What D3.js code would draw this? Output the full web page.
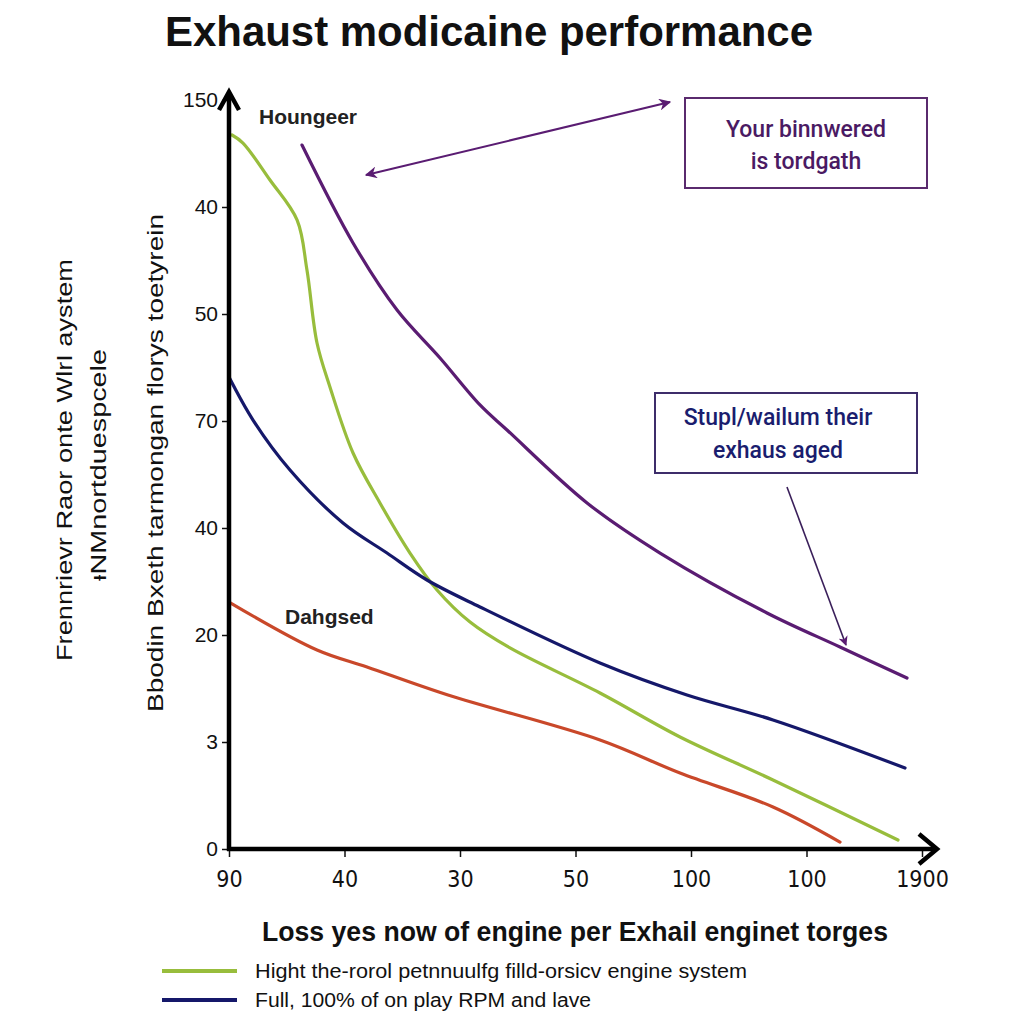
<!DOCTYPE html>
<html><head><meta charset="utf-8">
<script src="https://cdn.jsdelivr.net/npm/d3@7"></script>
<style>
body{margin:0;background:#fff;}
svg{display:block;font-family:"Liberation Sans",Arial,sans-serif;}
</style></head>
<body><svg id="c" width="1024" height="1024"></svg>
<script>
// ---- data ----
const xTickLabels = ["90","40","30","50","100","100","1900"];
const yTickLabels = ["0","3","20","40","70","50","40","150"];
const greenX = [0.026,0.121,0.355,0.589,0.675,0.762,0.874,1.074,1.307,1.567,1.801,2.087,2.433,3.212,3.905,4.710,5.792];
const greenY = [6.673,6.598,6.252,5.879,5.411,4.729,4.318,3.701,3.234,2.766,2.421,2.121,1.879,1.458,1.047,0.645,0.084];
const purpleX = [0.632,1.074,1.455,1.827,2.173,2.407,3.100,3.732,4.658,5.290,5.870];
const purpleY = [6.579,5.664,5.037,4.589,4.150,3.916,3.234,2.766,2.206,1.888,1.598];
const navyX = [0,0.208,0.528,0.987,1.368,1.714,2.173,3.212,3.965,4.710,5.853];
const navyY = [4.411,4.009,3.542,3.047,2.766,2.514,2.262,1.738,1.439,1.206,0.757];
const redX = [0,0.762,1.195,1.896,3.212,3.905,4.710,5.290];
const redY = [2.308,1.860,1.701,1.439,1.019,0.710,0.393,0.065];
const legendLabels = ["Hight the-rorol petnnuulfg filld-orsicv engine system","Full, 100% of on play RPM and lave"];

// ---- layout ----
const svg = d3.select("#c");
const x = d3.scaleLinear().domain([0,6]).range([229,922]);
const y = d3.scaleLinear().domain([0,7]).range([849,100]);
const colors = {green:"#98bd3c", purple:"#5a1c72", navy:"#15186a", red:"#c9482a"};

// title
svg.append("text").attr("x",489).attr("y",46).attr("text-anchor","middle")
  .attr("font-size",42).attr("font-weight","bold").attr("fill","#111")
  .attr("textLength",648).attr("lengthAdjust","spacingAndGlyphs")
  .text("Exhaust modicaine performance");

// series lines
const line = d3.line().x(d=>x(d[0])).y(d=>y(d[1])).curve(d3.curveCatmullRom.alpha(0.5));
const series = [
  {xs:greenX, ys:greenY, c:colors.green},
  {xs:purpleX, ys:purpleY, c:colors.purple},
  {xs:navyX, ys:navyY, c:colors.navy},
  {xs:redX, ys:redY, c:colors.red}
];
series.forEach(s=>{
  svg.append("path").datum(s.xs.map((v,i)=>[v,s.ys[i]]))
    .attr("d",line).attr("fill","none").attr("stroke",s.c)
    .attr("stroke-width",3.2).attr("stroke-linejoin","round").attr("stroke-linecap","round");
});

// axes
const yAxis = svg.append("g").attr("transform","translate(229,0)")
  .call(d3.axisLeft(y).tickValues(d3.range(8)).tickFormat(i=>yTickLabels[i]).tickSize(7).tickSizeOuter(0));
yAxis.select(".domain").remove();
yAxis.selectAll("line").attr("stroke","#111").attr("stroke-width",1.5);
yAxis.selectAll("text").attr("font-size",21).attr("fill","#111").attr("font-family","'Liberation Sans',Arial,sans-serif").attr("x",-11);

const xAxis = svg.append("g").attr("transform","translate(0,849)")
  .call(d3.axisBottom(x).tickValues(d3.range(7)).tickFormat(i=>xTickLabels[i]).tickSize(8).tickSizeOuter(0));
xAxis.select(".domain").remove();
xAxis.selectAll("line").attr("stroke","#111").attr("stroke-width",1.5);
xAxis.selectAll("text").attr("font-size",23).attr("fill","#111").attr("font-family","'DejaVu Sans Condensed','Liberation Sans Narrow',sans-serif").attr("y",22);

// axis lines with arrows
svg.append("line").attr("x1",229).attr("y1",851).attr("x2",229).attr("y2",93).attr("stroke","#000").attr("stroke-width",4.5);
svg.append("line").attr("x1",227).attr("y1",849).attr("x2",934).attr("y2",849).attr("stroke","#000").attr("stroke-width",4.5);
svg.append("path").attr("d","M219,110 L229,92 L239,110").attr("fill","none").attr("stroke","#000").attr("stroke-width",4.5);
svg.append("path").attr("d","M919,834 L937,849 L919,864").attr("fill","none").attr("stroke","#000").attr("stroke-width",4.5);

// y titles
svg.append("text").attr("transform","translate(163,463) rotate(-90)").attr("text-anchor","middle")
  .attr("font-size",22).attr("fill","#111").attr("textLength",498).attr("lengthAdjust","spacingAndGlyphs")
  .text("Bbodin Bxeth tarmongan florys toetyrein");
svg.append("text").attr("transform","translate(72,460) rotate(-90)").attr("text-anchor","middle")
  .attr("font-size",22).attr("fill","#111").attr("textLength",402).attr("lengthAdjust","spacingAndGlyphs")
  .text("Frennrievr Raor onte WlrI aystem");
svg.append("text").attr("transform","translate(106,465) rotate(-90)").attr("text-anchor","middle")
  .attr("font-size",22).attr("fill","#111").attr("textLength",232).attr("lengthAdjust","spacingAndGlyphs")
  .text("ᵻNMnortduespcele");

// x title
svg.append("text").attr("x",575).attr("y",941).attr("text-anchor","middle")
  .attr("font-size",27).attr("font-weight","bold").attr("fill","#111")
  .attr("textLength",626).attr("lengthAdjust","spacingAndGlyphs")
  .text("Loss yes now of engine per Exhail enginet torges");

// legend
const legColors = [colors.green, colors.navy];
legendLabels.forEach((t,i)=>{
  const yy = 971 + i*29;
  svg.append("line").attr("x1",162).attr("x2",237).attr("y1",yy).attr("y2",yy).attr("stroke",legColors[i]).attr("stroke-width",4);
  svg.append("text").attr("x",255).attr("y",yy+7).attr("font-size",20).attr("fill","#111")
    .attr("textLength", i===0 ? 492 : 336).attr("lengthAdjust","spacingAndGlyphs").text(t);
});

// annotations
const defs = svg.append("defs");
defs.append("marker").attr("id","ah").attr("viewBox","0 0 10 10").attr("refX",9).attr("refY",5)
  .attr("markerWidth",6).attr("markerHeight",6).attr("orient","auto-start-reverse")
  .append("path").attr("d","M0,0 L10,5 L0,10 L3,5 Z").attr("fill",colors.purple);

svg.append("text").attr("x",259).attr("y",124).attr("font-size",21).attr("font-weight","bold").attr("fill","#222").text("Houngeer");
svg.append("text").attr("x",285).attr("y",624).attr("font-size",21).attr("font-weight","bold").attr("fill","#222").text("Dahgsed");

svg.append("line").attr("x1",366).attr("y1",175).attr("x2",670).attr("y2",102)
  .attr("stroke",colors.purple).attr("stroke-width",2).attr("marker-start","url(#ah)").attr("marker-end","url(#ah)");
svg.append("line").attr("x1",787).attr("y1",487).attr("x2",846).attr("y2",645)
  .attr("stroke","#3a1f5a").attr("stroke-width",1.6).attr("marker-end","url(#ah)");

svg.append("rect").attr("x",685).attr("y",98).attr("width",242).attr("height",90)
  .attr("fill","none").attr("stroke","#5a2a6e").attr("stroke-width",2);
svg.append("text").attr("x",806).attr("y",137).attr("text-anchor","middle").attr("font-size",23).attr("font-weight","500")
  .attr("font-family","Roboto,sans-serif").attr("fill","#4a1a63").text("Your binnwered");
svg.append("text").attr("x",806).attr("y",169).attr("text-anchor","middle").attr("font-size",23).attr("font-weight","500")
  .attr("font-family","Roboto,sans-serif").attr("fill","#4a1a63").text("is tordgath");

svg.append("rect").attr("x",655).attr("y",393).attr("width",262).attr("height",80)
  .attr("fill","none").attr("stroke","#3d2d6a").attr("stroke-width",2);
svg.append("text").attr("x",778).attr("y",425).attr("text-anchor","middle").attr("font-size",23).attr("font-weight","500")
  .attr("font-family","Roboto,sans-serif").attr("fill","#1a1d6e").text("Stupl/wailum their");
svg.append("text").attr("x",778).attr("y",458).attr("text-anchor","middle").attr("font-size",23).attr("font-weight","500")
  .attr("font-family","Roboto,sans-serif").attr("fill","#1a1d6e").text("exhaus aged");
</script></body></html>
